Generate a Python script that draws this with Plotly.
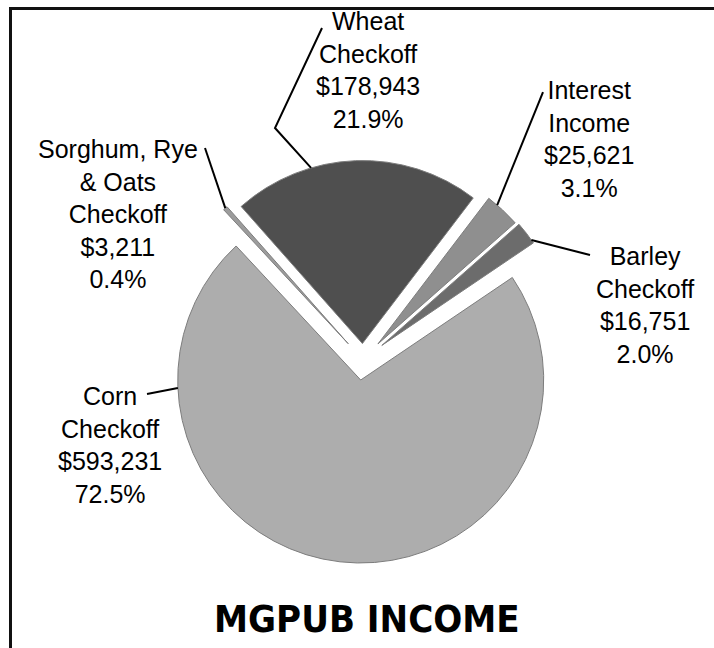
import math
import plotly.graph_objects as go

# ---- data ----
labels = ["Wheat Checkoff", "Interest Income", "Barley Checkoff", "Corn Checkoff", "Sorghum, Rye & Oats Checkoff"]
label_lines = [["Wheat", "Checkoff"], ["Interest", "Income"], ["Barley", "Checkoff"],
               ["Corn", "Checkoff"], ["Sorghum, Rye", "& Oats", "Checkoff"]]
values = [178943, 25621, 16751, 593231, 3211]
percents = ["21.9%", "3.1%", "2.0%", "72.5%", "0.4%"]
title_text = "MGPUB INCOME"

# ---- style / layout ----
W, H = 714, 648
colors = ["#4f4f4f", "#8f8f8f", "#6c6c6c", "#adadad", "#9c9c9c"]
pulls = [0.09, 0.12, 0.13, 0.11, 0.12]
ROT = -41.5
CX, CY, R = 363, 360, 183
maxpull = max(pulls)
half = R * (1 + maxpull)

def px(x):
    return x / W

def py(y):
    return 1 - y / H

dom_x = [px(CX - half), px(CX + half)]
dom_y = [py(CY + half), py(CY - half)]

fig = go.Figure(go.Pie(
    labels=labels, values=values, sort=False, direction="clockwise",
    rotation=ROT, pull=pulls, textinfo="none", hoverinfo="label+value+percent",
    marker=dict(colors=colors, line=dict(color="#7d7d7d", width=1)),
    domain=dict(x=dom_x, y=dom_y), showlegend=False,
))

total = sum(values)
cum = [sum(values[:i]) / total for i in range(len(values))]

def edge_point(i, frac):
    mid = math.radians(ROT + 360 * (cum[i] + 0.5 * values[i] / total))
    ax = CX + pulls[i] * R * math.sin(mid)
    ay = CY - pulls[i] * R * math.cos(mid)
    th = math.radians(ROT + 360 * (cum[i] + frac * values[i] / total))
    return ax + R * math.sin(th), ay - R * math.cos(th)

# label placement (pixel centers), leader start points, fraction along slice arc
label_pos = [(368, 70), (589, 139), (645, 305), (110, 445), (118, 214)]
leader_from = [[(322, 28), (275, 128)], [(543, 92)], [(590, 255)], [(147, 394)], [(205, 148)]]
edge_frac = [0.32, 0.3, 0.85, 0.81, 0.5]

annotations = []
shapes = []
for i in range(len(values)):
    txt = "<br>".join(label_lines[i] + ["${:,}".format(values[i]), percents[i]])
    lx, ly = label_pos[i]
    annotations.append(dict(x=px(lx), y=py(ly), xref="paper", yref="paper", text=txt,
                            showarrow=False, xanchor="center", yanchor="middle", align="center",
                            font=dict(family="Liberation Sans, Arial, sans-serif", size=25, color="black")))
    pts = leader_from[i] + [edge_point(i, edge_frac[i])]
    path = "M " + " L ".join("{:.5f},{:.5f}".format(px(x), py(y)) for x, y in pts)
    shapes.append(dict(type="path", path=path, xref="paper", yref="paper",
                       line=dict(color="black", width=2)))

annotations.append(dict(x=px(367), y=py(619), xref="paper", yref="paper", text="<b>" + title_text + "</b>",
                        showarrow=False, xanchor="center", yanchor="middle",
                        font=dict(family="Liberation Sans Narrow, DejaVu Sans Condensed, sans-serif",
                                  size=38, color="black")))

# frame (top and left edges)
shapes.append(dict(type="path", xref="paper", yref="paper",
                   path="M {:.5f},{:.5f} L {:.5f},{:.5f} L {:.5f},{:.5f}".format(
                       px(10.5), py(H + 5), px(10.5), py(8.5), px(W + 5), py(8.5)),
                   line=dict(color="#111111", width=3)))

fig.update_layout(width=W, height=H, autosize=False, margin=dict(l=0, r=0, t=0, b=0),
                  paper_bgcolor="white", plot_bgcolor="white",
                  annotations=annotations, shapes=shapes)

fig.write_html("out.html", config={"displayModeBar": False},
               post_script="document.body.style.margin='0';document.body.style.overflow='hidden';")
